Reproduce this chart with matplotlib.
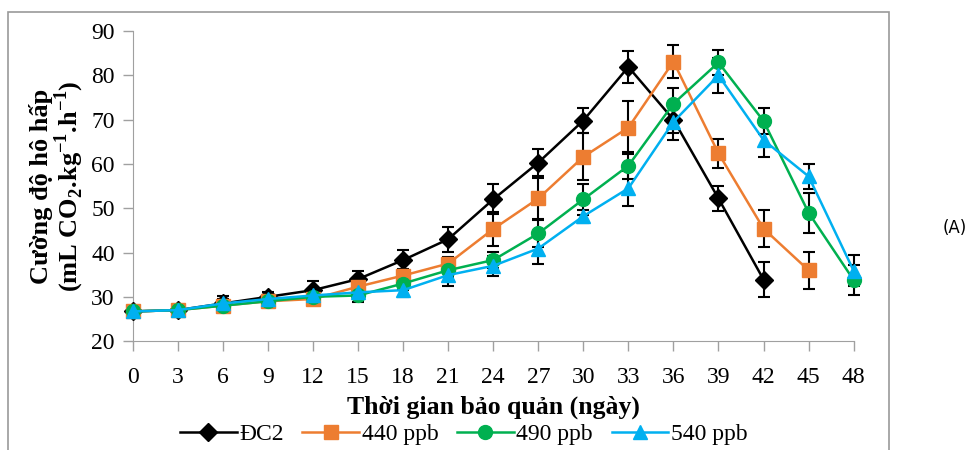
import matplotlib.pyplot as plt
from matplotlib.patches import Rectangle

plt.rcParams['font.family'] = ['Liberation Serif', 'DejaVu Serif']
plt.rcParams['mathtext.fontset'] = 'custom'
plt.rcParams['mathtext.rm'] = 'Liberation Serif'
plt.rcParams['mathtext.bf'] = 'Liberation Serif:bold'

days = [0, 3, 6, 9, 12, 15, 18, 21, 24, 27, 30, 33, 36, 39, 42, 45, 48]

dc2 = [26.7, 27.0, 28.5, 30.0, 31.5, 34.0, 38.3, 43.0, 52.0, 60.3, 69.8, 81.9, 70.0, 52.2, 33.9]
dc2_err = [0.8, 0.8, 1.6, 1.0, 2.0, 1.8, 2.2, 2.8, 3.4, 3.0, 2.9, 3.6, 3.0, 2.8, 3.9]

p440 = [26.7, 27.0, 28.0, 29.0, 29.5, 32.3, 34.8, 37.5, 45.3, 52.2, 61.6, 68.2, 83.1, 62.4, 45.4, 36.0]
p440_err = [0.8, 0.8, 1.0, 0.8, 1.0, 1.2, 1.5, 1.5, 3.8, 4.7, 5.3, 6.0, 3.8, 3.3, 4.2, 4.2]

p490 = [26.7, 27.0, 28.0, 29.0, 30.0, 30.3, 33.0, 36.0, 38.3, 44.3, 52.0, 59.6, 73.6, 82.9, 69.7, 49.0, 33.8]
p490_err = [0.8, 0.8, 1.0, 0.8, 1.0, 1.5, 1.5, 1.5, 1.8, 3.0, 3.5, 3.0, 3.6, 2.8, 3.0, 4.5, 3.4]

p540 = [26.7, 27.0, 28.5, 29.5, 30.3, 31.0, 31.5, 34.9, 37.0, 40.9, 48.2, 54.5, 69.5, 80.0, 65.4, 57.2, 35.9]
p540_err = [0.8, 0.8, 1.0, 0.8, 1.0, 1.2, 1.5, 2.5, 2.2, 3.5, 1.5, 4.0, 4.0, 4.0, 3.8, 2.8, 3.5]

series = [
    ('ĐC2', dc2, dc2_err, 'black', 'D', 9),
    ('440 ppb', p440, p440_err, '#ED7D31', 's', 10),
    ('490 ppb', p490, p490_err, '#00B050', 'o', 10),
    ('540 ppb', p540, p540_err, '#00B0F0', '^', 10.5),
]

fig = plt.figure(figsize=(9.7, 4.5), dpi=100)
ax = fig.add_axes([0.137, 0.242, 0.743, 0.689])

for name, vals, err, col, mk, ms in series:
    x = days[:len(vals)]
    ax.errorbar(x, vals, yerr=err, fmt='none', ecolor='black', elinewidth=1.5,
                capsize=4, capthick=1.5, clip_on=False, zorder=2)
    ax.plot(x, vals, color=col, marker=mk, markersize=ms, linewidth=1.8,
            label=name, clip_on=False, zorder=3)

ax.set_xlim(0, 48)
ax.set_ylim(20, 90)
ax.set_xticks(days)
ax.set_yticks(range(20, 91, 10))
ax.tick_params(labelsize=17, length=7, color='#a0a0a0', width=1)
ax.tick_params(axis='x', pad=12)
ax.tick_params(axis='y', pad=6)
for s in ['top', 'right']:
    ax.spines[s].set_visible(False)
for s in ['left', 'bottom']:
    ax.spines[s].set_color('#a0a0a0')

ax.set_xlabel('Thời gian bảo quản (ngày)', fontsize=18.5, fontweight='bold', labelpad=5)
ax.set_ylabel('Cường độ hô hấp\n(mL CO$_\\mathbf{2}$.kg$^\\mathbf{-1}$.h$^\\mathbf{-1}$)',
              fontsize=19, fontweight='bold', linespacing=0.95, labelpad=4)

ax.legend(loc='center', bbox_to_anchor=(0.459, -0.3), ncol=4, frameon=False,
          fontsize=17, handlelength=2.4, handletextpad=0.1, columnspacing=0.8,
          borderaxespad=0, borderpad=0)

fig.text(0.984, 0.493, '(A)', fontsize=12, family='DejaVu Sans', ha='center', va='center')
fig.patches.append(Rectangle((0.008, -0.01), 0.909, 0.983, transform=fig.transFigure,
                             fill=False, edgecolor='#9a9a9a', linewidth=1.2))

fig.savefig('out.png', dpi=100)
